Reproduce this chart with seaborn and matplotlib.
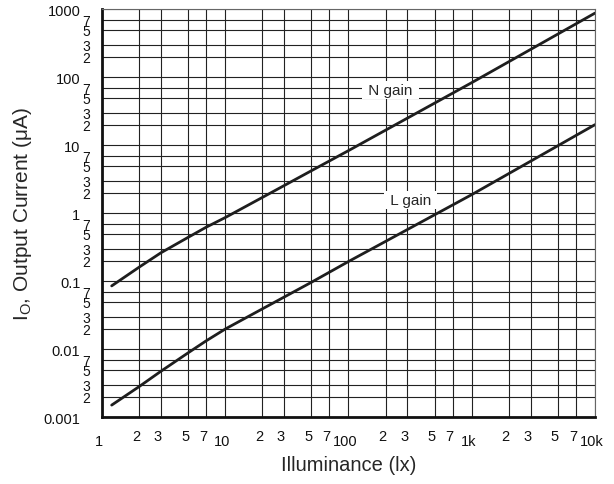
import numpy as np
import pandas as pd
import matplotlib
matplotlib.use("Agg")
import matplotlib.pyplot as plt
import matplotlib.transforms as mtransforms
import seaborn as sns

# illuminance (lx) and output current (uA)
lux = [1.2, 2, 3, 5, 7, 10, 20, 50, 100, 1000, 10000]
n_gain = [0.085, 0.16, 0.26, 0.44, 0.62, 0.86, 1.7, 4.2, 8.3, 83, 875]
l_gain = [0.0015, 0.0028, 0.0047, 0.0088, 0.0132, 0.0197, 0.039, 0.096, 0.194, 1.87, 20]

x_major = [1, 10, 100, 1000, 10000]
x_major_labels = ["1", "10", "100", "1k", "10k"]
y_major = [0.001, 0.01, 0.1, 1, 10, 100, 1000]
y_major_labels = ["0.001", "0.01", "0.1", "1", "10", "100", "1000"]
minor_steps = [2, 3, 5, 7]

sns.set_theme(style="white")
plt.rcParams["font.family"] = ["Liberation Sans", "DejaVu Sans"]

df = pd.DataFrame({
    "lux": lux * 2,
    "current": n_gain + l_gain,
    "gain": ["N gain"] * len(lux) + ["L gain"] * len(lux),
})

fig = plt.figure(figsize=(6.14, 4.85), dpi=100)
ax = fig.add_axes([0.166, 0.138, 0.803, 0.841])

sns.lineplot(data=df, x="lux", y="current", units="gain", estimator=None,
             color="#1e1e1e", lw=2.0, ax=ax, legend=False)

ax.set_xscale("log")
ax.set_yscale("log")
ax.set_xlim(1, 10000)
ax.set_ylim(0.001, 1000)

x_minor = [m * d for d in x_major[:-1] for m in minor_steps]
y_minor = [m * d for d in y_major[:-1] for m in minor_steps]
ax.set_xticks(x_major, x_major_labels)
ax.set_xticks(x_minor, [str(m) for d in x_major[:-1] for m in minor_steps], minor=True)
ax.set_yticks(y_major, y_major_labels)
ax.set_yticks(y_minor, [str(m) for d in y_major[:-1] for m in minor_steps], minor=True)

ax.tick_params(which="both", length=0, labelsize=10.5, colors="#111")
ax.tick_params(axis="y", which="minor", labelsize=10)
ax.tick_params(axis="y", which="major", pad=15.5)
ax.tick_params(axis="y", which="minor", pad=8.5)
ax.tick_params(axis="x", which="major", pad=12)
ax.tick_params(axis="x", which="minor", pad=8.5)

shift = mtransforms.ScaledTranslation(-3 / 100, 0, fig.dpi_scale_trans)
for lab in ax.get_xticklabels(which="both"):
    lab.set_transform(lab.get_transform() + shift)

ax.grid(which="both", color="#222", lw=0.8)
ax.set_axisbelow(True)

for side in ["left", "bottom"]:
    ax.spines[side].set_linewidth(2.0)
    ax.spines[side].set_color("#111")
for side in ["top", "right"]:
    ax.spines[side].set_linewidth(0.8)
    ax.spines[side].set_color("#666")

ax.text(219, 64, " N gain ", fontsize=11, ha="center", va="center",
        bbox=dict(facecolor="white", edgecolor="none", pad=1.5))
ax.text(319, 1.55, " L gain ", fontsize=11, ha="center", va="center",
        bbox=dict(facecolor="white", edgecolor="none", pad=1.5))

ax.set_xlabel("Illuminance (lx)", fontsize=14.5, labelpad=5)
ax.set_ylabel("I$_\\mathregular{O}$, Output Current (μA)", fontsize=15, labelpad=7)

fig.savefig("out.png", dpi=100)
